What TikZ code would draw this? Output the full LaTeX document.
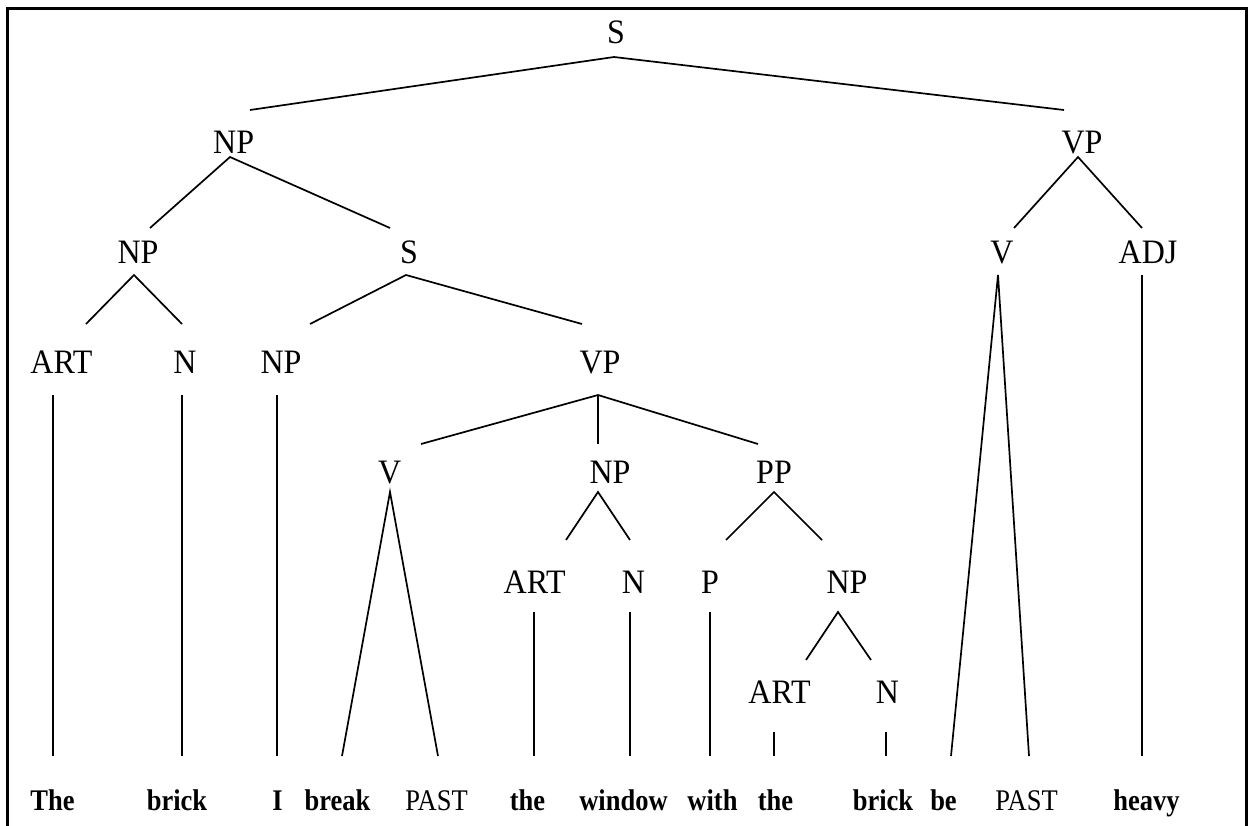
\documentclass[tikz,border=0pt]{standalone}
\usepackage{fontspec}
\setmainfont{Liberation Serif}
% the lettering is set slightly taller than wide
\newcommand\catlbl[1]{\scalebox{1}[1.07]{#1}}
\newcommand\wordlbl[1]{\scalebox{1}[1.13]{#1}}
\begin{document}
\begin{tikzpicture}[x=1pt,y=-1pt,
  cat/.style={anchor=base,inner sep=0pt,font=\fontsize{32}{38}\selectfont},
  word/.style={anchor=base,inner sep=0pt,font=\fontsize{26.5}{32}\selectfont\bfseries},
  morph/.style={anchor=base,inner sep=0pt,font=\fontsize{26.5}{32}\selectfont},
  branch/.style={line width=1.7pt},
  frame/.style={line width=3pt}]
\useasboundingbox (0,0) rectangle (1249,825);
% open frame (no bottom rule)
\draw[frame] (7,826) -- (7,8) -- (1246,8) -- (1246,826);

% category labels
\node[cat] (S0)   at (616,43)  {\catlbl{S}};
\node[cat] (NP1)  at (233.6,153) {\catlbl{NP}};
\node[cat] (VP1)  at (1082,153) {\catlbl{VP}};
\node[cat] (NP2)  at (138,263) {\catlbl{NP}};
\node[cat] (S2)   at (409,263) {\catlbl{S}};
\node[cat] (V2)   at (1002,263) {\catlbl{V}};
\node[cat] (ADJ2) at (1148,263) {\catlbl{ADJ}};
\node[cat] (ART3) at (61.5,373) {\catlbl{ART}};
\node[cat] (N3)   at (185,373) {\catlbl{N}};
\node[cat] (NP3)  at (281,373) {\catlbl{NP}};
\node[cat] (VP3)  at (600,373) {\catlbl{VP}};
\node[cat] (V4)   at (389.7,483) {\catlbl{V}};
\node[cat] (NP4)  at (610,483) {\catlbl{NP}};
\node[cat] (PP4)  at (774,483) {\catlbl{PP}};
\node[cat] (ART5) at (534.7,593) {\catlbl{ART}};
\node[cat] (N5)   at (633.5,593) {\catlbl{N}};
\node[cat] (P5)   at (710,593) {\catlbl{P}};
\node[cat] (NP5)  at (847,593) {\catlbl{NP}};
\node[cat] (ART6) at (779.5,703) {\catlbl{ART}};
\node[cat] (N6)   at (887.5,703) {\catlbl{N}};

% terminal string
\node[word]  (wThe)    at (52.5,810)  {\wordlbl{The}};
\node[word]  (wBrick)  at (177,810)   {\wordlbl{brick}};
\node[word]  (wI)      at (277.5,810) {\wordlbl{I}};
\node[word]  (wBreak)  at (337.5,810) {\wordlbl{break}};
\node[morph] (wPastA)  at (436.5,810) {\wordlbl{PAST}};
\node[word]  (wThe2)   at (527.5,810) {\wordlbl{the}};
\node[word]  (wWindow) at (623.5,810) {\wordlbl{window}};
\node[word]  (wWith)   at (712.5,810) {\wordlbl{with}};
\node[word]  (wThe3)   at (775.5,810) {\wordlbl{the}};
\node[word]  (wBrick2) at (883,810)   {\wordlbl{brick}};
\node[word]  (wBe)     at (943.5,810) {\wordlbl{be}};
\node[morph] (wPastB)  at (1026.5,810) {\wordlbl{PAST}};
\node[word]  (wHeavy)  at (1146.5,810) {\wordlbl{heavy}};

% branch points below each label (-a) and line ends above each label (-t)
\coordinate (S0-a)   at (614,57);
\coordinate (NP1-t)  at (250,110);   \coordinate (VP1-t)  at (1064,110);
\coordinate (NP1-a)  at (230,157);   \coordinate (VP1-a)  at (1078,157);
\coordinate (NP2-t)  at (150,228);   \coordinate (S2-t)   at (390,228);
\coordinate (V2-t)   at (1014,228);  \coordinate (ADJ2-t) at (1142,228);
\coordinate (NP2-a)  at (134,275);   \coordinate (S2-a)   at (406,275);
\coordinate (V2-a)   at (998,275);   \coordinate (ADJ2-a) at (1142,275);
\coordinate (ART3-t) at (86,324);    \coordinate (N3-t)   at (182,324);
\coordinate (NP3-t)  at (310,324);   \coordinate (VP3-t)  at (582,324);
\coordinate (ART3-a) at (53,395);    \coordinate (N3-a)   at (182,395);
\coordinate (NP3-a)  at (277,395);   \coordinate (VP3-a)  at (598,395);
\coordinate (V4-t)   at (421,444);   \coordinate (NP4-t)  at (598,444);
\coordinate (PP4-t)  at (758,444);
\coordinate (V4-a)   at (390,492);   \coordinate (NP4-a)  at (598,492);
\coordinate (PP4-a)  at (774,492);
\coordinate (ART5-t) at (566,540);   \coordinate (N5-t)   at (630,540);
\coordinate (P5-t)   at (726,540);   \coordinate (NP5-t)  at (822,540);
\coordinate (ART5-a) at (534,612);   \coordinate (N5-a)   at (630,612);
\coordinate (P5-a)   at (710,612);   \coordinate (NP5-a)  at (838,612);
\coordinate (ART6-t) at (806,660);   \coordinate (N6-t)   at (871,660);
\coordinate (ART6-a) at (774,732);   \coordinate (N6-a)   at (886,732);
% line ends above the terminal string
\coordinate (wThe-t)    at (53,756);
\coordinate (wBrick-t)  at (182,756);
\coordinate (wI-t)      at (277,756);
\coordinate (wBreak-t)  at (342,756);
\coordinate (wPastA-t)  at (438,756);
\coordinate (wThe2-t)   at (534,756);
\coordinate (wWindow-t) at (630,756);
\coordinate (wWith-t)   at (710,756);
\coordinate (wThe3-t)   at (774,756);
\coordinate (wBrick2-t) at (886,756);
\coordinate (wBe-t)     at (951,756);
\coordinate (wPastB-t)  at (1029,756);
\coordinate (wHeavy-t)  at (1142,756);

% branches
\draw[branch] (NP1-t) -- (S0-a) -- (VP1-t);
\draw[branch] (NP2-t) -- (NP1-a) -- (S2-t);
\draw[branch] (V2-t) -- (VP1-a) -- (ADJ2-t);
\draw[branch] (ART3-t) -- (NP2-a) -- (N3-t);
\draw[branch] (NP3-t) -- (S2-a) -- (VP3-t);
\draw[branch] (wBe-t) -- (V2-a) -- (wPastB-t);
\draw[branch] (ADJ2-a) -- (wHeavy-t);
\draw[branch] (ART3-a) -- (wThe-t);
\draw[branch] (N3-a) -- (wBrick-t);
\draw[branch] (NP3-a) -- (wI-t);
\draw[branch] (V4-t) -- (VP3-a) -- (PP4-t);
\draw[branch] (VP3-a) -- (NP4-t);
\draw[branch] (wBreak-t) -- (V4-a) -- (wPastA-t);
\draw[branch] (ART5-t) -- (NP4-a) -- (N5-t);
\draw[branch] (P5-t) -- (PP4-a) -- (NP5-t);
\draw[branch] (ART5-a) -- (wThe2-t);
\draw[branch] (N5-a) -- (wWindow-t);
\draw[branch] (P5-a) -- (wWith-t);
\draw[branch] (ART6-t) -- (NP5-a) -- (N6-t);
\draw[branch] (ART6-a) -- (wThe3-t);
\draw[branch] (N6-a) -- (wBrick2-t);
\end{tikzpicture}
\end{document}
